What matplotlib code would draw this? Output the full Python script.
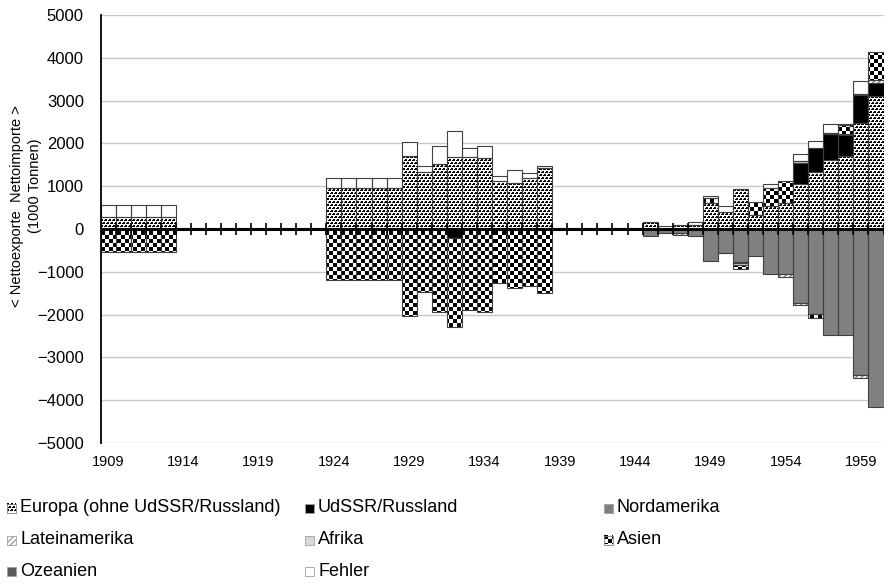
import numpy as np
import matplotlib
matplotlib.use('Agg')
import matplotlib.pyplot as plt
from matplotlib.path import Path
from matplotlib.patches import Rectangle

plt.rcParams['font.family'] = ['Liberation Sans', 'DejaVu Sans']

# years 1909..1960, one category per year (gaps = no data)
years = list(range(1909, 1961))
tick_years = [1909, 1914, 1919, 1924, 1929, 1934, 1939, 1944, 1949, 1954, 1959]

# 1000 t, + = net imports, - = net exports
#          1909-1913                 1914-1923             1924-1928
europa = ([280, 280, 280, 280, 280] + [0] * 10 + [950, 950, 950, 950, 950] +
          # 1929-1938
          [1710, 1330, 1520, 1690, 1690, 1660, 1120, 1080, 1190, 1430] +
          # 1939-1944
          [0] * 6 +
          # 1945-1960
          [160, 80, 100, 100, 600, 400, 930, 330, 540, 615, 1045, 1330, 1615, 1710, 2475, 3100])
udssr = ([0, 0, 0, 0, 0] + [0] * 10 + [0, 0, 0, 0, 0] +
         [0, 0, 0, -200, 0, 0, 0, 0, 0, 0] +
         [0] * 6 +
         [0, 0, 0, 0, 0, 0, 0, 0, 0, 0, 495, 560, 610, 490, 645, 310])
nordamerika = ([0, 0, 0, 0, 0] + [0] * 10 + [0, 0, 0, 0, 0] +
               [0, 0, 0, 0, 0, 0, 0, 0, 0, 0] +
               [0] * 6 +
               [-160, -90, -100, -160, -740, -550, -770, -625, -1050, -1055, -1725, -1990, -2480, -2480, -3420, -4160])
latein = ([0, 0, 0, 0, 0] + [0] * 10 + [0, 0, 0, 0, 0] +
          [0, 0, 0, 0, 0, 0, 0, 0, 0, 0] +
          [0] * 6 +
          [0, 0, -40, 0, 0, -20, -30, 0, 0, -75, -40, 0, 0, 0, -55, 80])
afrika = ([0, 0, 0, 0, 0] + [0] * 10 + [0, 0, 0, 0, 0] +
          [0, 0, 0, 0, 0, 0, 0, 0, 0, 0] +
          [0] * 6 +
          [0, 0, 0, 0, 0, 0, -50, 0, 0, 0, 40, 0, 20, 20, 40, 0])
asien = ([-540, -540, -540, -540, -540] + [0] * 10 + [-1200, -1200, -1200, -1200, -1200] +
         [-2030, -1480, -1950, -2100, -1900, -1940, -1250, -1380, -1340, -1500] +
         [0] * 6 +
         [0, 0, 0, 0, 130, 0, -90, 290, 410, 495, 0, -80, 0, 200, 0, 650])
ozeanien = [0] * 52
fehler = ([270, 270, 270, 270, 270] + [0] * 10 + [250, 250, 250, 250, 250] +
          [320, 150, 430, 610, 210, 280, 120, 290, 110, 50] +
          [0] * 6 +
          [0, 0, 0, 70, 30, 140, 10, 0, 100, 0, 170, 170, 215, 40, 290, 0])

names = ["Europa (ohne UdSSR/Russland)", "UdSSR/Russland", "Nordamerika",
         "Lateinamerika", "Afrika", "Asien", "Ozeanien", "Fehler"]
values = [europa, udssr, nordamerika, latein, afrika, asien, ozeanien, fehler]

# pixel textures (1 = black)
tile_dots = np.array([[1, 1, 0, 0],
                      [1, 1, 0, 1],
                      [0, 0, 0, 0],
                      [0, 0, 1, 1],
                      [0, 1, 1, 1],
                      [0, 0, 0, 0]])
tile_check = np.kron(np.array([[1, 0], [0, 1]]), np.ones((4, 4)))
styles = {
    "Europa (ohne UdSSR/Russland)": dict(color='white', tile=tile_dots),
    "UdSSR/Russland": dict(color='black'),
    "Nordamerika": dict(color='#808080'),
    "Lateinamerika": dict(color='white', hatch='//////'),
    "Afrika": dict(color='#d9d9d9'),
    "Asien": dict(color='white', tile=tile_check),
    "Ozeanien": dict(color='#595959'),
    "Fehler": dict(color='white'),
}
edge = '#404040'

W, H = 888, 583
fig = plt.figure(figsize=(W / 100, H / 100), dpi=100)
ax_l, ax_r, ax_t, ax_b = 100.5, 883.5, 15, 443
ax = fig.add_axes([ax_l / W, 1 - ax_b / H, (ax_r - ax_l) / W, (ax_b - ax_t) / H])
aw, ah = int(round(ax_r - ax_l)), int(round(ax_b - ax_t))


def texture(tile, w, h):
    reps = (h // tile.shape[0] + 1, w // tile.shape[1] + 1)
    return 1 - np.tile(tile, reps)[:h, :w]


x = np.arange(len(years))
pos_base = np.zeros(len(years))
neg_base = np.zeros(len(years))
for name, vals in zip(names, values):
    v = np.array(vals, dtype=float)
    base = np.where(v >= 0, pos_base, neg_base)
    m = v != 0
    st = styles[name]
    if m.any():
        bars = ax.bar(x[m], v[m], bottom=base[m], width=1.0, color=st['color'],
                      edgecolor='#808080' if 'hatch' in st else 'none',
                      hatch=st.get('hatch'), linewidth=0, zorder=2)
        if 'tile' in st:
            path = Path.make_compound_path(
                *[p.get_path().transformed(p.get_patch_transform()) for p in bars])
            im = ax.imshow(texture(st['tile'], aw, ah), cmap='gray', vmin=0, vmax=1,
                           extent=(0, 1, 0, 1), transform=ax.transAxes,
                           interpolation='nearest', aspect='auto', zorder=2.2)
            im.set_clip_path(path, ax.transData)
        ax.bar(x[m], v[m], bottom=base[m], width=1.0, fill=False,
               edgecolor=edge, linewidth=0.8, zorder=3)
    pos_base += np.where(v > 0, v, 0)
    neg_base += np.where(v < 0, v, 0)

# zero line with crossing category ticks
ax.axhline(0, color='black', lw=2.2, zorder=5)
ax.vlines(np.arange(len(years) + 1) - 0.5, -140, 140, color='black', lw=1.2, zorder=5)

ax.set_xlim(-0.5, len(years) - 0.5)
ax.set_ylim(-5000, 5000)
ax.set_yticks(range(-5000, 5001, 1000))
ax.set_xticks([years.index(y) for y in tick_years])
ax.set_xticklabels([str(y) for y in tick_years])
ax.tick_params(axis='x', length=0, pad=9, labelsize=10.5)
ax.tick_params(axis='y', length=0, pad=12, labelsize=12)
ax.grid(axis='y', color='#c8c8c8', lw=1.0, zorder=0)
ax.set_axisbelow(True)
for s in ['top', 'right', 'bottom']:
    ax.spines[s].set_visible(False)
ax.spines['left'].set_linewidth(1.3)
ax.spines['left'].set_zorder(6)

fig.text(17 / W, 1 - 206 / H, "< Nettoexporte  Nettoimporte >", rotation=90,
         ha='center', va='center', fontsize=10.5)
fig.text(35 / W, 1 - 186 / H, "(1000 Tonnen)", rotation=90,
         ha='center', va='center', fontsize=10.5)

# legend, 3 columns
col_x = [7, 305, 604]
row_y = [508, 540, 571]
msize = 9
for i, name in enumerate(names):
    cx, cy = col_x[i % 3], row_y[i // 3]
    st = styles[name]
    x0, y0 = cx / W, 1 - (cy + msize / 2) / H
    if 'tile' in st:
        fig.figimage(texture(st['tile'], msize, msize), xo=cx, yo=H - cy - msize / 2,
                     cmap='gray', vmin=0, vmax=1, origin='upper')
        fig.add_artist(Rectangle((x0, y0), msize / W, msize / H, transform=fig.transFigure,
                                 fill=False, edgecolor='#808080', lw=0.6))
    else:
        fig.add_artist(Rectangle((x0, y0), msize / W, msize / H, transform=fig.transFigure,
                                 facecolor=st['color'], hatch=st.get('hatch'),
                                 edgecolor='#a0a0a0', lw=0.6))
    fig.text((cx + msize + 4) / W, 1 - cy / H, name, ha='left', va='center', fontsize=13)

fig.savefig('out.png', dpi=100)
